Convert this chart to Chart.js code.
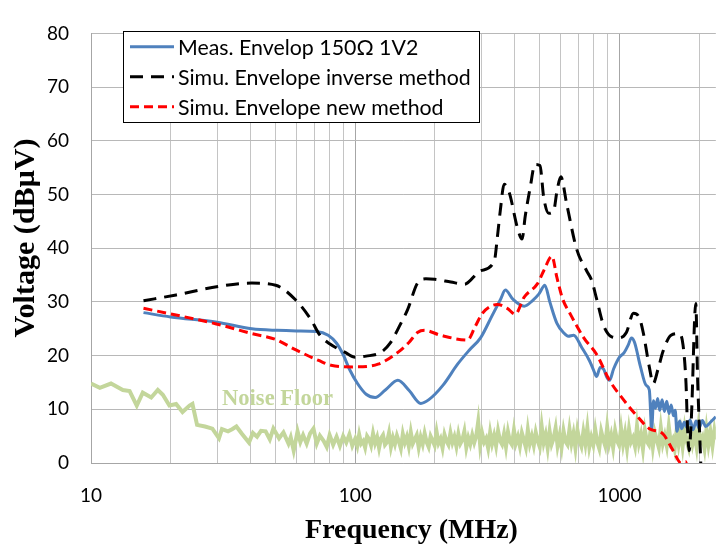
<!DOCTYPE html>
<html><head><meta charset="utf-8">
<script src="https://cdn.jsdelivr.net/npm/chart.js@4/dist/chart.umd.min.js"></script>
<style>html,body{margin:0;padding:0;background:#fff}#wrap{width:720px;height:548px;position:relative}</style>
</head><body><div id="wrap"><canvas id="c" width="720" height="548"></canvas></div>
<script>
const seriesNames = ['Meas. Envelop 150Ω 1V2', 'Simu. Envelope inverse method', 'Simu. Envelope new method', 'Noise Floor'];
const xTitle = 'Frequency (MHz)';
const yTitle = 'Voltage (dBμV)';
const xTickValues = [10,20,30,40,50,60,70,80,90,100,200,300,400,500,600,700,800,900,1000,2000];
const xTickLabels = ['10','100','1000'];
const yTickLabels = ['0','10','20','30','40','50','60','70','80'];

const measFreq = [15.8,20,30,40.6,50.5,60,71.3,79,85,90,95,102,110,119,130,145,160,177,190,215,244,270,298,330,355,370,395,436,470,496,522,545,580,616,640,671,720,771,795,820,845,871,895,917,950,1000,1040,1080,1110,1140,1200,1260,1297,1325,1345,1370,1395,1420,1450,1480,1510,1540,1570,1600,1625,1650,1690,1720,1760,1800,1850,1900,1950,2000,2060,2120,2200,2316];
const measVal  = [28,27.2,26.2,25,24.7,24.6,24.5,23.8,22.3,20.2,17.5,14.8,12.8,12.2,13.6,15.4,13.5,11.1,11.8,14.5,18.4,21,23.3,27.5,30.5,32.2,30.5,29.2,30.3,31.5,33.1,30,26,24.2,23.6,23.8,21.5,19,17.5,16.1,17.8,17.5,16,15.4,17.5,19.7,20.5,22,23.3,22.5,18,14.5,13.6,6.4,11.6,10.2,12,9.8,11.8,9.6,11.5,9.2,10.8,8.8,9.8,5.9,7.8,6.4,7.6,6.6,8,6.2,7.8,6.5,7.9,6.8,7.5,8.6];

const invFreq = [15.8,21,30.5,40.6,50,59.4,67.8,73.5,80,91.6,100,110,125,136,147,158,172,185,200,230,259,298,336,345,354,366,383,410,428,440,459,479,500,517,540,564,580,600,631,688,751,785,820,871,935,1000,1062,1130,1190,1230,1297,1342,1400,1462,1567,1682,1740,1786,1810,1835,1870,1945,1975,2030,2060,2316];
const invVal  = [30.2,31.3,32.9,33.5,33.1,30.4,26.8,23.8,22.2,20.6,19.7,19.9,20.6,22.4,25.5,28.6,33.5,34.3,34.2,33.7,33.3,35.8,37.6,42,47,51.9,50.3,44,41.7,46,51.2,55.6,55.4,49.4,46.5,47,50.6,53.3,48.3,39.9,35.8,34,30.5,25.6,23.5,23.3,24.3,27.9,27,24.3,17.9,14.8,17.5,20.8,23.8,24.1,22,14.8,6.4,2.3,8,29.7,16,0.2,-10,-10];

const newFreq = [15.8,20.3,29.8,40.6,50,59.4,72.7,81,100,122,145,160,172,183,210,266,285,303,345,376,403,436,488,517,555,580,610,649,733,820,917,1035,1158,1297,1462,1596,1709,1780,1850,2316];
const newVal  = [28.8,27.7,25.9,24.1,23,21.1,19.1,18.2,17.9,18.4,20.6,22.5,24.3,24.7,23.8,22.9,25.5,27.9,29.5,28.8,27.7,30.9,33.3,35.8,38.5,34.5,30.5,27.9,23.3,20.2,15.4,11.8,8.9,6.4,5.4,2.3,0,0.3,-4,-12];

const noiseFreq = [10,10.8,11.9,13.2,14,14.9,15.7,16.9,17.9,18.7,19.8,21,22.2,23.6,24.2,25.2,27,28.8,30.5,31.3,33,34.2,35.5,37.3,39.6,41,42.5,44,45.8,47.5,49,51.5,53.5,55.9,57,58.5,60.5,62,63.5,65.5,67.5,69.5,71.5,73.5,76,78,80,82.5,85,87.5,90,92.5,95,97.5,
100,101.8,103.5,105.3,107.2,109,110.9,112.9,114.8,116.8,
118.9,121,123.1,125.2,127.4,129.6,131.9,134.2,136.5,138.9,
141.3,143.8,146.3,148.8,151.4,154.1,156.8,159.5,162.3,165.1,
168,170.9,173.9,176.9,180,183.1,186.3,189.6,192.9,196.2,
199.7,203.2,206.7,210.3,214,217.7,221.5,225.3,229.3,233.3,
237.3,241.5,245.7,250,254.3,258.8,263.3,267.9,272.5,277.3,
282.1,287,292,297.1,302.3,307.6,312.9,318.4,324,329.6,
335.4,341.2,347.2,353.2,359.4,365.7,372,378.5,385.1,391.8,
398.7,405.6,412.7,419.9,427.2,434.7,442.3,450,457.8,465.8,
473.9,482.2,490.6,499.1,507.8,516.7,525.7,534.9,544.2,553.7,
563.4,573.2,583.2,593.4,603.7,614.2,624.9,635.8,646.9,658.2,
669.7,681.4,693.3,705.4,717.7,730.2,742.9,755.9,769.1,782.5,
796.1,810,824.1,838.5,853.1,868,883.2,898.6,914.3,930.2,
946.4,962.9,979.7,996.8,1014,1032,1050,1068,1087,1106,
1125,1145,1165,1185,1206,1227,1248,1270,1292,1315,
1338,1361,1385,1409,1434,1459,1484,1510,1537,1563,
1591,1618,1647,1675,1705,1734,1765,1795,1827,1859,
1891,1924,1958,1992,2027,2062,2098,2135,2172,2210,
2249,2288,2320];
const noiseVal = [14.8,14.0,14.8,13.6,13.4,10.7,13.1,12.2,13.6,12.7,10.7,11.0,9.5,10.7,11.0,7.1,6.8,6.4,4.6,6.3,5.9,6.3,6.8,5.4,3.8,5.6,4.9,6.0,5.9,4.4,6.4,4.6,5.7,3.6,4.8,2.3,5.9,3.9,5.2,3.6,5.5,6.4,3.6,5.1,4.1,3.0,5.2,3.4,4.9,3.2,5.0,3.8,5.3,3.2,
4.5,3.2,5.3,3.6,4.1,2.9,5.0,4.4,3.3,5.5,
3.7,4.8,2.8,4.6,5.2,3.4,3.9,5.6,3.0,4.7,
3.5,5.1,4.0,2.7,5.4,3.8,4.9,3.1,5.7,3.6,
4.4,5.2,2.9,4.8,3.5,5.5,3.9,3.0,5.0,4.2,
3.3,5.8,3.7,4.5,2.8,5.3,4.1,3.4,5.6,3.8,
4.9,3.1,5.4,3.6,4.3,5.9,2.9,4.7,3.5,5.2,
3.8,5.0,7.7,3.3,5.5,3.9,4.6,2.8,5.7,3.6,
5.1,3.2,6.0,4.2,3.5,5.4,3.0,5.8,4.0,3.4,
6.1,3.7,4.9,3.1,5.6,4.3,2.9,6.2,3.6,5.0,
3.3,5.7,4.1,3.0,6.8,3.8,5.3,2.8,5.9,3.5,
4.6,6.5,3.2,5.1,2.9,6.0,4.0,3.4,6.3,3.7,
5.5,2.8,6.1,4.2,3.1,5.8,3.6,6.6,3.0,4.8,
3.4,6.2,3.9,2.7,5.9,4.4,3.2,6.7,3.6,5.2,
2.9,6.0,4.1,3.3,6.4,3.5,5.6,2.8,6.3,3.9,
4.7,3.1,6.9,3.7,5.3,2.6,6.1,4.0,3.4,6.5,
3.0,5.7,4.3,2.9,6.6,3.6,5.1,3.2,6.8,3.8,
4.5,2.7,6.2,3.5,5.9,3.1,6.4,4.1,2.8,6.0,
3.6,5.4,3.0,6.7,3.9,4.8,2.7,6.3,3.4,5.8,
3.2,6.1,4.4];

function pts(f, v) { return f.map((x, i) => ({ x: x, y: v[i] })); }

const TICK_FONT = { family: 'Lato', size: 19 };

function fitSize(ctx, text, weight, family, target) {
  ctx.font = weight + ' 40px ' + family;
  const w = ctx.measureText(text).width;
  return 40 * target / w;
}

const decor = {
  id: 'decor',
  afterDraw(chart) {
    const ctx = chart.ctx;
    const ds = chart.data.datasets;
    ctx.save();
    const nf = fitSize(ctx, seriesNames[3], 'bold', '"Liberation Serif"', 111);
    ctx.font = 'bold ' + nf + 'px "Liberation Serif"';
    ctx.fillStyle = '#c3d69b';
    ctx.textAlign = 'left'; ctx.textBaseline = 'alphabetic';
    ctx.fillText(seriesNames[3], 222, 405);
    ctx.fillStyle = '#ffffff';
    ctx.fillRect(123, 31, 356, 91);
    ctx.strokeStyle = '#000000'; ctx.lineWidth = 1;
    ctx.strokeRect(123.5, 31.5, 356, 91);
    const ls = fitSize(ctx, seriesNames[1], 'normal', 'Lato', 293);
    ctx.font = ls + 'px Lato';
    ctx.textBaseline = 'middle';
    const order = [2, 1, 0];
    const rows = [46.7, 76.7, 106.7];
    for (let r = 0; r < 3; r++) {
      const d = ds[order[r]];
      ctx.beginPath();
      ctx.setLineDash(d.borderDash || []);
      ctx.strokeStyle = d.borderColor; ctx.lineWidth = 3;
      ctx.moveTo(130, rows[r]); ctx.lineTo(174, rows[r]);
      ctx.stroke();
      ctx.setLineDash([]);
      ctx.fillStyle = '#000';
      ctx.fillText(seriesNames[r], 178, rows[r] + 1);
    }
    ctx.fillStyle = '#000';
    const xs = fitSize(ctx, xTitle, 'bold', '"Liberation Serif"', 213);
    ctx.font = 'bold ' + xs + 'px "Liberation Serif"';
    ctx.textAlign = 'center'; ctx.textBaseline = 'alphabetic';
    ctx.fillText(xTitle, 411.5, 538);
    const ys = fitSize(ctx, yTitle, 'bold', '"Liberation Serif"', 199);
    ctx.font = 'bold ' + ys + 'px "Liberation Serif"';
    ctx.translate(34, 238); ctx.rotate(-Math.PI / 2);
    ctx.fillText(yTitle, 0, 0);
    ctx.restore();
  }
};

new Chart(document.getElementById('c').getContext('2d'), {
  type: 'line',
  data: {
    datasets: [
      { label: seriesNames[2], data: pts(newFreq, newVal), borderColor: '#ff0000', borderWidth: 3, borderDash: [9, 5], pointRadius: 0, cubicInterpolationMode: 'monotone', fill: false },
      { label: seriesNames[1], data: pts(invFreq, invVal), borderColor: '#000000', borderWidth: 3, borderDash: [13, 8], pointRadius: 0, cubicInterpolationMode: 'monotone', fill: false },
      { label: seriesNames[0], data: pts(measFreq, measVal), borderColor: '#4f81bd', borderWidth: 3, pointRadius: 0, cubicInterpolationMode: 'monotone', fill: false },
      { label: seriesNames[3], data: pts(noiseFreq, noiseVal), borderColor: '#c3d69b', borderWidth: 4, pointRadius: 0, tension: 0, fill: false }
    ]
  },
  options: {
    responsive: false, animation: false, devicePixelRatio: 1,
    layout: { padding: { top: 16, right: 0, left: 0, bottom: 0 } },
    plugins: { legend: { display: false }, tooltip: { enabled: false }, title: { display: false } },
    scales: {
      x: {
        type: 'logarithmic', min: 10, max: 2316,
        afterBuildTicks: s => { s.ticks = xTickValues.map(v => ({ value: v })); },
        afterFit: s => { s.height = 85; },
        ticks: {
          autoSkip: false, maxRotation: 0, minRotation: 0, padding: 21, color: '#000', font: TICK_FONT,
          callback: v => { const t = String(v); return xTickLabels.includes(t) ? t : ''; }
        },
        grid: { drawTicks: false, lineWidth: 1, color: c => (c.tick && xTickLabels.includes(String(c.tick.value))) ? '#a6a6a6' : '#c4c4c4' },
        border: { display: true, color: '#a6a6a6' }
      },
      y: {
        min: 0, max: 80,
        afterFit: s => { s.width = 91; },
        ticks: { stepSize: 10, padding: 22, color: '#000', font: TICK_FONT, callback: (v) => yTickLabels.includes(String(v)) ? String(v) : '' },
        grid: { drawTicks: false, lineWidth: 1, color: '#b8b8b8' },
        border: { display: true, color: '#a6a6a6' }
      }
    }
  },
  plugins: [decor]
});
</script>
</body></html>
